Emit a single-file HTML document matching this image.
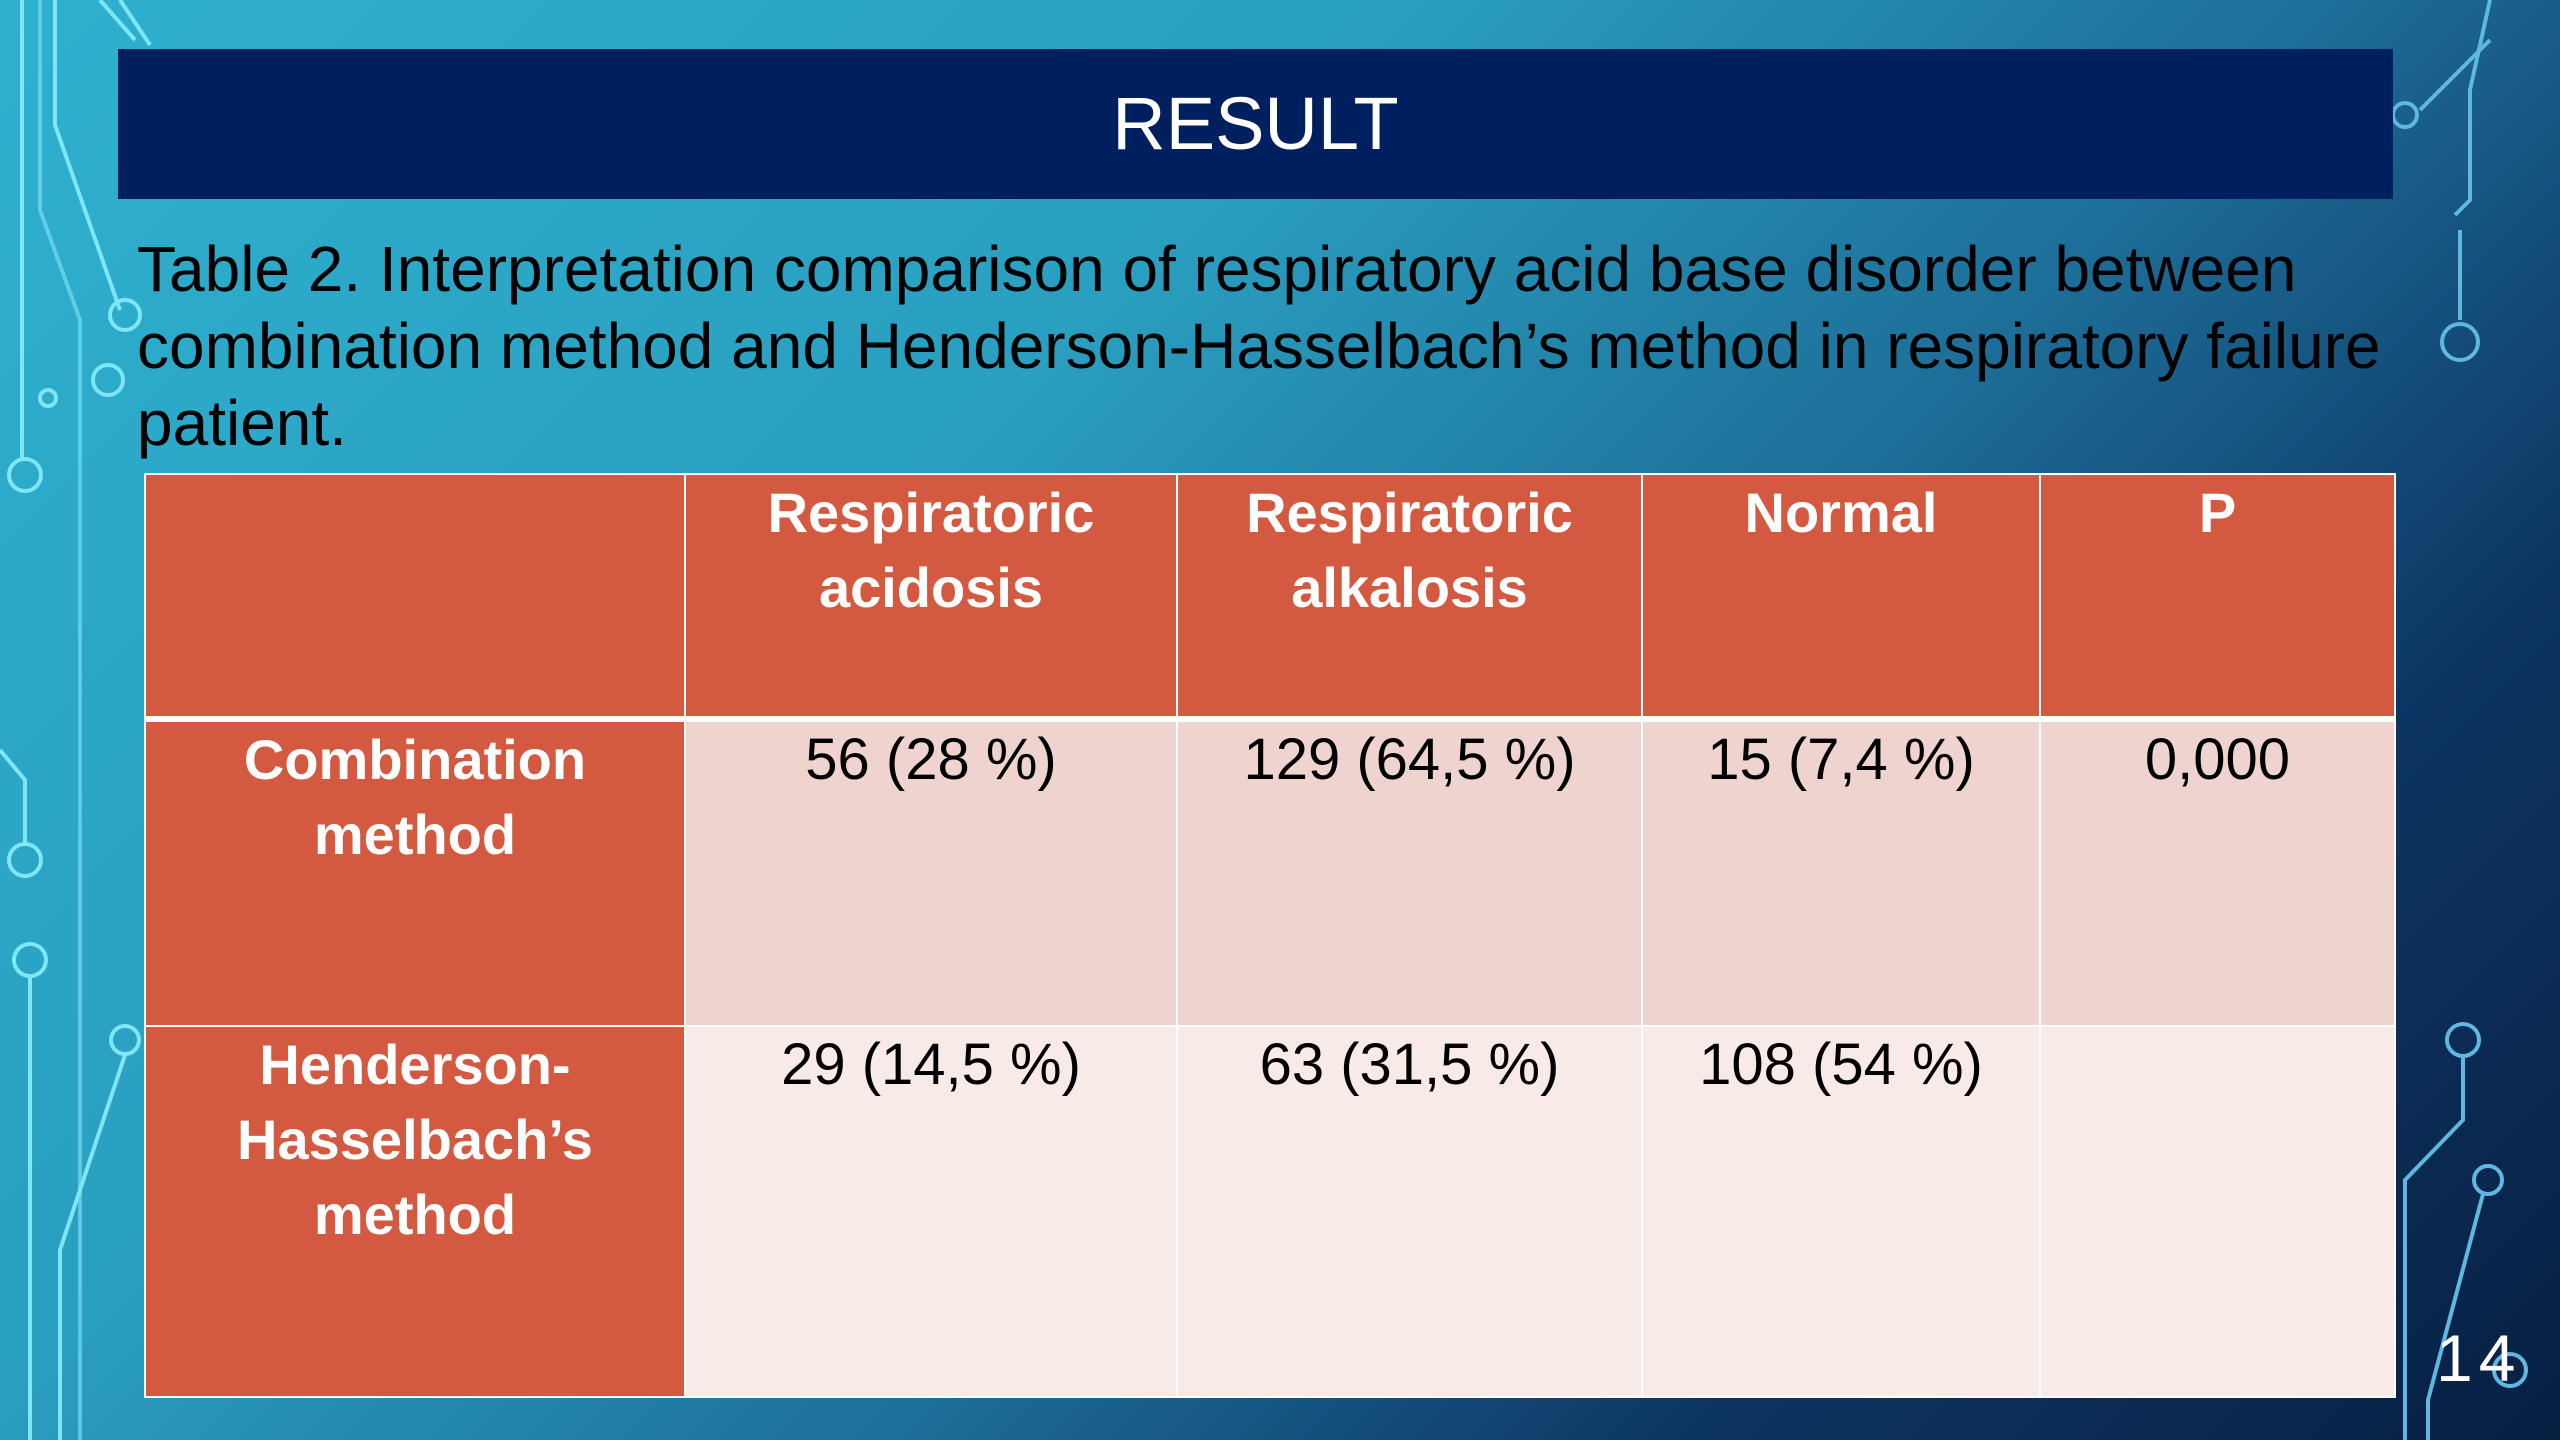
<!DOCTYPE html>
<html><head><meta charset="utf-8"><style>
html,body{margin:0;padding:0}
body{width:2560px;height:1440px;position:relative;overflow:hidden;font-family:"Liberation Sans",sans-serif;
background:linear-gradient(135deg,#2eb0cf 0%,#2a9fc0 35%,#1d6f99 58%,#0d3563 78%,#081f42 100%);}
#bg{position:absolute;left:0;top:0}
#title-bar{position:absolute;left:118px;top:49px;width:2275px;height:150px;background:#001f5f;color:#fff;
font-size:74px;text-align:center;line-height:150px;letter-spacing:0px}
#caption{position:absolute;left:137px;top:231px;width:2300px;font-size:64px;line-height:77px;color:#000}
table{position:absolute;left:144px;top:473px;border-collapse:collapse;width:2250px;height:923px;table-layout:fixed}
td,th{border:2px solid #fff;vertical-align:top;text-align:center;font-size:56px;line-height:75px;padding-top:0}
th{background:#d35940;color:#fff;font-weight:bold}
tr.h th{border-bottom:6px solid #fff}
tr.r1 td{background:#efd3cf}
tr.r2 td{background:#f8eae7}
td{color:#000;font-size:58px}
#page-num{position:absolute;left:2436px;top:1320px;color:#fff;font-size:66px;letter-spacing:6px}
</style></head><body>
<svg id="bg" width="2560" height="1440">
<g fill="none" stroke="#7fe6f5" stroke-width="4">
<path d="M22 0V460"/><path d="M40 0V210L80 320V1440" stroke-opacity=".6"/><path d="M55 0V125L120 310"/>
<path d="M100 0L135 40"/><path d="M120 0L150 45"/>
<circle cx="125" cy="315" r="15"/><circle cx="108" cy="380" r="15"/><circle cx="48" cy="398" r="8"/>
<circle cx="25" cy="475" r="16"/><circle cx="25" cy="860" r="16"/><circle cx="30" cy="960" r="16"/>
<circle cx="125" cy="1040" r="14"/><path d="M0 750L25 780V845"/><path d="M30 975V1440"/><path d="M125 1055L60 1250V1440"/>
</g>
<g fill="none" stroke="#5fb8e0" stroke-width="4">
<path d="M2490 0L2470 90V200L2455 215"/><circle cx="2405" cy="115" r="12"/><path d="M2420 110L2490 40"/>
<path d="M2460 230V320"/><circle cx="2460" cy="342" r="18"/>
<circle cx="2463" cy="1040" r="16"/><path d="M2463 1056V1120L2405 1180V1440"/>
<circle cx="2488" cy="1180" r="14"/><path d="M2483 1194L2428 1400V1440"/><circle cx="2510" cy="1370" r="16"/>
</g>
</svg>
<div id="title-bar">RESULT</div>
<div id="caption">Table 2. Interpretation comparison of respiratory acid base disorder between combination method and Henderson-Hasselbach’s method in respiratory failure patient.</div>
<table>
<colgroup><col style="width:540px"><col style="width:492px"><col style="width:465px"><col style="width:398px"><col style="width:355px"></colgroup>
<tr class="h" style="height:245px">
<th></th>
<th>Respiratoric<br>acidosis</th>
<th>Respiratoric<br>alkalosis</th>
<th>Normal</th>
<th>P</th></tr>
<tr class="r1" style="height:307px">
<th>Combination<br>method</th>
<td>56 (28 %)</td>
<td>129 (64,5 %)</td>
<td>15 (7,4 %)</td>
<td>0,000</td></tr>
<tr class="r2" style="height:371px">
<th>Henderson-<br>Hasselbach’s<br>method</th>
<td>29 (14,5 %)</td>
<td>63 (31,5 %)</td>
<td>108 (54 %)</td>
<td></td></tr>
</table>
<div id="page-num">14</div>
</body></html>
